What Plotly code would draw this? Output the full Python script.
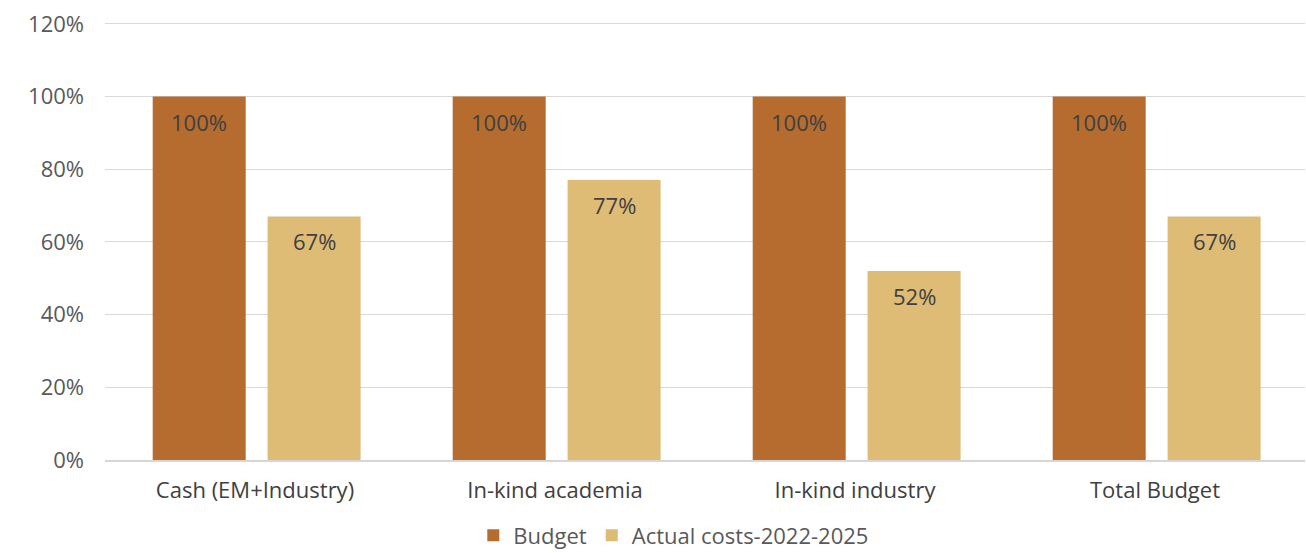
import plotly.graph_objects as go

categories = ["Cash (EM+Industry)", "In-kind academia", "In-kind industry", "Total Budget"]
budget = [1.00, 1.00, 1.00, 1.00]
actual = [0.67, 0.77, 0.52, 0.67]
y_ticks = [0, 0.2, 0.4, 0.6, 0.8, 1.0, 1.2]
y_tick_labels = ["0%", "20%", "40%", "60%", "80%", "100%", "120%"]

FONT = "Open Sans"
budget_color = "#B56C2E"
actual_color = "#DEBC76"
label_color = "#404040"
tick_color = "#595959"

BAR_W = 0.31
BUDGET_OFF = -0.341
ACTUAL_OFF = 0.042

fig = go.Figure()
fig.add_trace(go.Bar(
    name="Budget", x=categories, y=budget,
    width=BAR_W, offset=BUDGET_OFF,
    marker=dict(color=budget_color, line=dict(width=0)),
))
fig.add_trace(go.Bar(
    name="Actual costs-2022-2025", x=categories, y=actual,
    width=BAR_W, offset=ACTUAL_OFF,
    marker=dict(color=actual_color, line=dict(width=0)),
))

# value labels just inside the top of each bar, centred on the bar
cat_px = 300  # pixel width of one category slot
for i, cat in enumerate(categories):
    for series, off in ((budget, BUDGET_OFF), (actual, ACTUAL_OFF)):
        fig.add_annotation(
            x=cat, y=series[i], xref="x", yref="y",
            text=f"{round(series[i] * 100)}%",
            showarrow=False, yanchor="middle", yshift=-25,
            xshift=(off + BAR_W / 2) * cat_px,
            font=dict(family=FONT, size=22, color=label_color),
        )

fig.update_layout(
    width=1306, height=553,
    margin=dict(l=105, r=1, t=22, b=93, autoexpand=False),
    paper_bgcolor="white", plot_bgcolor="white",
    barmode="overlay",
    font=dict(family=FONT, size=22, color=tick_color),
    legend=dict(
        orientation="h", x=0.474, xanchor="center", y=-0.172, yanchor="middle",
        font=dict(family=FONT, size=22, color=tick_color),
        itemclick=False, traceorder="normal",
    ),
    showlegend=True,
)
fig.update_yaxes(
    range=[0, 1.205], tickvals=y_ticks, ticktext=y_tick_labels,
    showgrid=True, gridcolor="#D9D9D9", gridwidth=1,
    zeroline=False, showline=False, ticks="", ticklabelstandoff=20,
    tickfont=dict(family=FONT, size=22, color=tick_color),
)
fig.update_xaxes(
    range=[-0.5, 3.5],
    showline=True, linecolor="#D6D6D6", linewidth=1.5, ticks="",
    ticklabelstandoff=10,
    tickfont=dict(family=FONT, size=22, color=label_color),
)

fig.write_html("out.html")
